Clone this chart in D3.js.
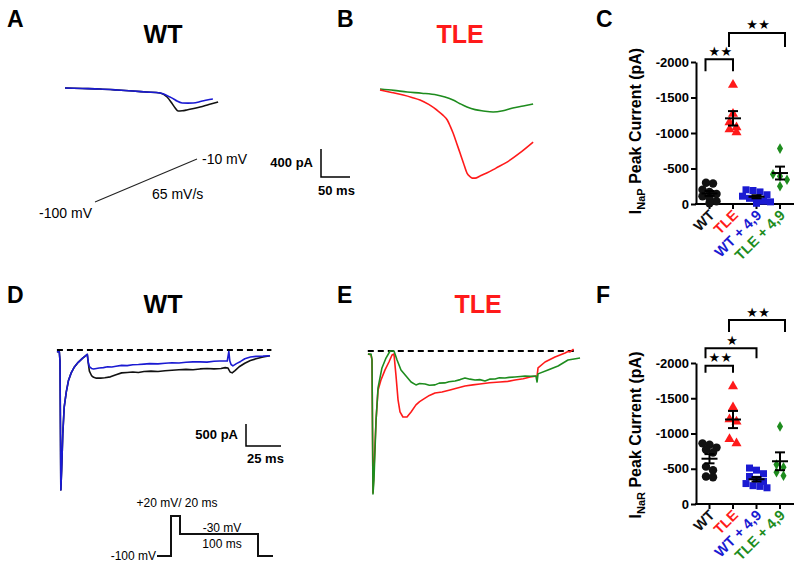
<!DOCTYPE html>
<html><head><meta charset="utf-8">
<script src="https://cdn.jsdelivr.net/npm/d3@7"></script>
<style>body{margin:0;background:#fff}svg{display:block}</style>
</head><body><svg id="c" width="800" height="569"></svg>
<script>
// ---------------- DATA ----------------
// Panel A: persistent current during ramp (WT black, WT + 4,9 blue)
const rampWT_ms   = [0,30,60,90,117,140,164,176,184,190,195,202,210,222,233,248,264];
const rampWT_pA   = [0,-7,-14,-28,-43,-57,-71,-129,-214,-286,-329,-325,-314,-293,-271,-236,-200];
const rampWT49_ms = [0,30,60,90,117,140,164,174,181,188,193,202,212,221,235,245,255];
const rampWT49_pA = [0,-7,-14,-28,-43,-57,-71,-100,-129,-160,-186,-214,-216,-214,-190,-171,-157];
// Panel B: TLE red, TLE + 4,9 green
const rampTLE_ms   = [0,20,40,55,69,84,98,108,116,121,126,132,138,144,150,155,159,164,172,184,200,219,240,264];
const rampTLE_pA   = [-14,-50,-86,-120,-157,-220,-300,-370,-443,-530,-629,-770,-915,-1060,-1201,-1250,-1273,-1273,-1245,-1201,-1130,-1044,-920,-758];
const rampTLE49_ms = [0,24,47,72,98,112,126,138,150,164,178,195,212,229,247,264];
const rampTLE49_pA = [0,-20,-43,-60,-86,-115,-157,-210,-257,-295,-314,-329,-310,-271,-243,-214];
// Ramp protocol (mV)
const rampProtocol_mV = [-100,-10];

// Panel D: resurgent current, WT (black) and WT + 4,9 (blue)
const resWT49_ms = [-2.2,-0.5,0,0.6,1.2,2,3,4.5,6,8,10,13,16,19.5,20.2,21,22.5,24,26,28,31,34,37,40,44,48,52,56,60,64,70,75,80,85,90,95,100,105,110,114,119.5,120.6,121.3,122.2,123.5,126,129,132,136,140,145,150];
const resWT49_pA = [-40,-40,-250,-3180,-2700,-1900,-1300,-950,-700,-520,-400,-280,-190,-100,-280,-380,-420,-430,-420,-410,-400,-380,-385,-370,-350,-355,-335,-330,-320,-310,-315,-300,-290,-295,-280,-270,-270,-275,-255,-250,-250,-30,-250,-330,-360,-310,-260,-200,-160,-145,-140,-130];
const resWT_ms = [-2.2,-0.5,0,0.6,1.2,2,3,4.5,6,8,10,13,16,19.5,20.2,21,22.5,24,26,29,32,36,40,44,48,52,56,60,65,70,75,80,85,90,95,100,105,110,115,118,120,121.5,123,125,128,132,136,140,145,150];
const resWT_pA = [-40,-40,-250,-3180,-2700,-1900,-1300,-950,-700,-520,-400,-280,-190,-100,-300,-480,-580,-620,-640,-640,-630,-610,-560,-520,-510,-500,-510,-490,-480,-490,-470,-460,-450,-440,-450,-430,-420,-430,-420,-400,-410,-500,-520,-470,-380,-300,-240,-200,-160,-130];
// Panel E: TLE (red) and TLE + 4,9 (green)
const resTLE_ms = [-2.9,-0.7,0,0.7,1.4,2.9,4.3,6.4,9.3,12.1,14.3,15.7,17.1,18.6,20,22.1,25,27.9,31.4,34,37.9,41,45,50,55.7,61,66.4,72,77.1,84,91.4,97,102.1,108,112.9,117.9,118.6,123.6,130.7,137.9,140,141.4,144];
const resTLE_pA = [-70,-90,-200,-3220,-2700,-1570,-890,-660,-430,-250,-90,-70,-545,-1110,-1385,-1500,-1500,-1385,-1225,-1150,-1070,-1010,-955,-930,-885,-840,-795,-770,-750,-720,-705,-690,-660,-630,-590,-570,-385,-250,-136,-45,-10,-20,45];
const resTLE49_ms = [-2.9,-0.7,0,0.7,1.4,2.9,4.3,7.1,10,12.9,15.7,17.9,20.7,24.3,27.9,31.4,34,37.9,41,45,48,52,55,59.3,63,66.4,70,73.6,77,80.7,84,87.9,91,95,98,102.1,106,109.3,113,117.1,117.9,118.6,125.7,132.9,140,144.3,148.6];
const resTLE49_pA = [-70,-70,-200,-3250,-2930,-1570,-840,-385,-160,0,0,-205,-430,-570,-705,-770,-740,-750,-780,-770,-730,-725,-700,-680,-650,-615,-640,-660,-650,-680,-640,-635,-610,-615,-600,-590,-580,-570,-575,-570,-705,-520,-430,-340,-205,-180,-160];
// Step protocol: time (ms) and voltage (mV)
const stepProtocol_ms = [-15,0,0,20,20,120,120,135];
const stepProtocol_mV = [-100,-100,20,20,-30,-30,-100,-100];

// Panels C & F: peak currents per group
const groups = ["WT","TLE","WT + 4,9","TLE + 4,9"];
const napWT    = [-300,-290,-200,-170,-140,-110,-80,-40,-10];
const napTLE   = [-1680,-1270,-1150,-1080,-1050,-1010];
const napWT49  = [-200,-190,-170,-130,-110,-80,-60,-30,-10,-40];
const napTLE49 = [-780,-420,-390,-340,-250];
const narWT    = [-860,-840,-800,-770,-730,-530,-480,-390,-380];
const narTLE   = [-1670,-1370,-1200,-1170,-920,-860];
const narWT49  = [-510,-480,-430,-390,-350,-320,-290,-250,-230,-260];
const narTLE49 = [-1100,-560,-520,-450,-400];
const yTickValues = [0,-500,-1000,-1500,-2000];
const yTickLabels = ["0","-500","-1000","-1500","-2000"];
// significance comparisons (group index a vs b, number of stars)
const napSigA = [0,1], napSigB = [1,3], napSigStars = [2,2], napSigLevel = [-2040,-2410];
const narSigA = [0,0,1], narSigB = [1,2,3], narSigStars = [2,1,2], narSigLevel = [-1960,-2210,-2610];

// ---------------- STYLE ----------------
const FONT = "'Liberation Sans', Arial, Helvetica, sans-serif";
const colBlack = "#111111", colBlue = "#1a1ad2", colRed = "#ff1a1a", colGreen = "#1e8c1e";
const groupColors = [colBlack, colRed, colBlue, colGreen];
const symbols = [d3.symbolCircle, d3.symbolTriangle, d3.symbolSquare, d3.symbolDiamond];
const symbolSizes = [56, 44, 49, 32];

const svg = d3.select("#c");
svg.append("rect").attr("width",800).attr("height",569).attr("fill","#fff");

function txt(x,y,s,opts={}) {
  const t = svg.append("text").attr("x",x).attr("y",y).text(s)
    .attr("font-family",FONT).attr("font-size",opts.size||14)
    .attr("font-weight",opts.bold?"bold":"normal")
    .attr("fill",opts.color||"#000")
    .attr("text-anchor",opts.anchor||"start");
  return t;
}

// panel letters & titles
[["A",7,27],["B",337,27],["C",596,27],["D",7,303],["E",337,303],["F",596,303]]
  .forEach(d=>txt(d[1],d[2],d[0],{size:23,bold:true}));
txt(163,43,"WT",{size:25,bold:true,anchor:"middle"});
txt(460,43,"TLE",{size:25,bold:true,anchor:"middle",color:colRed});
txt(163,313,"WT",{size:25,bold:true,anchor:"middle"});
txt(478,313,"TLE",{size:25,bold:true,anchor:"middle",color:colRed});

function drawTrace(xs, ys, tms, pA, color, curve) {
  const line = d3.line().x((d,i)=>xs(tms[i])).y((d,i)=>ys(pA[i])).curve(curve||d3.curveLinear);
  svg.append("path").datum(tms).attr("d",line).attr("fill","none")
    .attr("stroke",color).attr("stroke-width",1.6).attr("stroke-linejoin","round");
}

// ---- Panel A/B ----
const xA = d3.scaleLinear().domain([0,50]).range([65,94]);
const yA = d3.scaleLinear().domain([0,-400]).range([88,116]);
const xB = d3.scaleLinear().domain([0,50]).range([380,409]);
const yB = d3.scaleLinear().domain([0,-400]).range([89,117]);
drawTrace(xA,yA,rampWT_ms,rampWT_pA,colBlack,d3.curveMonotoneX);
drawTrace(xA,yA,rampWT49_ms,rampWT49_pA,colBlue,d3.curveMonotoneX);
drawTrace(xB,yB,rampTLE49_ms,rampTLE49_pA,colGreen,d3.curveMonotoneX);
drawTrace(xB,yB,rampTLE_ms,rampTLE_pA,colRed,d3.curveMonotoneX);

// scale bar A/B
{
  const x0 = 321, y0 = 177;
  const w = xA(50)-xA(0), h = yA(-400)-yA(0);
  svg.append("path").attr("d",`M${x0},${y0-h}V${y0}H${x0+w}`).attr("fill","none").attr("stroke","#000").attr("stroke-width",1.5);
  txt(313,167,"400 pA",{size:13,bold:true,anchor:"end"});
  txt(318,195,"50 ms",{size:13,bold:true});
}
// ramp protocol
{
  const xr = d3.scaleLinear().domain(rampProtocol_mV).range([95,197]);
  const yr = d3.scaleLinear().domain(rampProtocol_mV).range([202,159]);
  svg.append("line").attr("x1",xr(rampProtocol_mV[0])).attr("y1",yr(rampProtocol_mV[0]))
    .attr("x2",xr(rampProtocol_mV[1])).attr("y2",yr(rampProtocol_mV[1]))
    .attr("stroke","#222").attr("stroke-width",1.1);
  txt(202,164,"-10 mV",{size:14});
  txt(152,199,"65 mV/s",{size:14});
  txt(92,218,"-100 mV",{size:14,anchor:"end"});
}

// ---- Panel D/E ----
const xD = d3.scaleLinear().domain([0,25]).range([60,95]);
const yD = d3.scaleLinear().domain([0,-500]).range([350,372]);
const xE = d3.scaleLinear().domain([0,25]).range([372,407]);
const yE = d3.scaleLinear().domain([0,-500]).range([351,373]);
svg.append("line").attr("x1",xD(-2.2)).attr("x2",xD(151)).attr("y1",yD(0)).attr("y2",yD(0))
  .attr("stroke","#000").attr("stroke-width",2).attr("stroke-dasharray","6,4");
svg.append("line").attr("x1",xE(-3)).attr("x2",xE(145.7)).attr("y1",yE(0)).attr("y2",yE(0))
  .attr("stroke","#000").attr("stroke-width",2).attr("stroke-dasharray","6,4");
drawTrace(xD,yD,resWT_ms,resWT_pA,colBlack);
drawTrace(xD,yD,resWT49_ms,resWT49_pA,colBlue);
drawTrace(xE,yE,resTLE_ms,resTLE_pA,colRed);
drawTrace(xE,yE,resTLE49_ms,resTLE49_pA,colGreen);

// scale bar D
{
  const x0 = 246, y0 = 446;
  const w = xD(25)-xD(0), h = yD(-500)-yD(0);
  svg.append("path").attr("d",`M${x0},${y0-h}V${y0}H${x0+w}`).attr("fill","none").attr("stroke","#000").attr("stroke-width",1.5);
  txt(238,439,"500 pA",{size:13,bold:true,anchor:"end"});
  txt(247,463,"25 ms",{size:13,bold:true});
}
// step protocol
{
  const xs = d3.scaleLinear().domain([-15,0,20,120,135]).range([157,171,180,258,273]);
  const ys = d3.scaleLinear().domain([-100,-30,20]).range([556,534,516]);
  const line = d3.line().x((d,i)=>xs(stepProtocol_ms[i])).y((d,i)=>ys(stepProtocol_mV[i]));
  svg.append("path").datum(stepProtocol_ms).attr("d",line).attr("fill","none").attr("stroke","#111").attr("stroke-width",2);
  txt(177,507,"+20 mV/ 20 ms",{size:12,anchor:"middle"});
  txt(222,532,"-30 mV",{size:12,anchor:"middle"});
  txt(222,548,"100 ms",{size:12,anchor:"middle"});
  txt(156,560,"-100 mV",{size:12,anchor:"end"});
}

// ---- Panels C/F scatter ----
function scatterPanel(y0px, y2000px, datasets, sub, titleY, sigA, sigB, sigStars, sigLevel, legLens) {
  const y = d3.scaleLinear().domain([0,-2000]).range([y0px,y2000px]);
  const x = d3.scalePoint().domain(groups).range([709.5,780]);
  const axisX = 696;
  // y axis
  const ax = svg.append("g").attr("transform",`translate(${axisX},0)`)
    .call(d3.axisLeft(y).tickValues(yTickValues).tickFormat((d,i)=>yTickLabels[i]).tickSize(5).tickPadding(2).tickSizeOuter(0));
  ax.select(".domain").attr("stroke","#000").attr("stroke-width",2);
  ax.selectAll(".tick line").attr("stroke","#000").attr("stroke-width",2);
  ax.selectAll(".tick text").attr("font-family",FONT).attr("font-size",13).attr("font-weight","bold").attr("fill","#000");
  // x axis
  const bx = svg.append("g").attr("transform",`translate(0,${y0px})`);
  bx.append("line").attr("x1",axisX-1).attr("x2",794).attr("stroke","#000").attr("stroke-width",2);
  groups.forEach((g,i)=>{
    bx.append("line").attr("x1",x(g)).attr("x2",x(g)).attr("y1",0).attr("y2",5).attr("stroke","#000").attr("stroke-width",2);
    svg.append("text").attr("transform",`translate(${x(g)+6},${y0px+12}) rotate(-45)`)
      .attr("text-anchor","end").attr("font-family",FONT).attr("font-size",14.5).attr("font-weight","bold")
      .attr("fill",groupColors[i]).text(g);
  });
  // title
  const t = svg.append("text").attr("transform",`translate(641,${titleY}) rotate(-90)`)
    .attr("text-anchor","middle").attr("font-family",FONT).attr("font-size",16).attr("font-weight","bold");
  t.append("tspan").text("I");
  t.append("tspan").attr("font-size",11).attr("dy","0.32em").text(sub);
  t.append("tspan").attr("dy","-0.22em").text(" Peak Current (pA)");
  // points
  datasets.forEach((vals,gi)=>{
    const cx = x(groups[gi]);
    const pts = vals.map(v=>({v,py:y(v)})).sort((a,b)=>a.py-b.py);
    const rows=[];
    pts.forEach(p=>{ const r=rows[rows.length-1]; if(r && p.py-r[0].py<6) r.push(p); else rows.push([p]); });
    rows.forEach(r=>r.forEach((p,i)=>p.px=cx+(i-(r.length-1)/2)*7));
    const sym = d3.symbol().type(symbols[gi]).size(symbolSizes[gi]);
    svg.append("g").selectAll("path").data(pts).join("path")
      .attr("d",sym).attr("transform",d=>`translate(${d.px},${d.py})`)
      .attr("fill",groupColors[gi]);
    const m = d3.mean(vals), se = d3.deviation(vals)/Math.sqrt(vals.length);
    const g = svg.append("g").attr("stroke","#000").attr("stroke-width",2);
    g.append("line").attr("x1",cx-8).attr("x2",cx+8).attr("y1",y(m)).attr("y2",y(m));
    g.append("line").attr("x1",cx).attr("x2",cx).attr("y1",y(m-se)).attr("y2",y(m+se));
    g.append("line").attr("x1",cx-5).attr("x2",cx+5).attr("y1",y(m-se)).attr("y2",y(m-se));
    g.append("line").attr("x1",cx-5).attr("x2",cx+5).attr("y1",y(m+se)).attr("y2",y(m+se));
  });
  // significance brackets
  sigA.forEach((a,i)=>{
    const x1 = x(groups[a]) - 4, x2 = x(groups[sigB[i]]) + (sigB[i]===3?5:0);
    const yy = y(sigLevel[i]), leg = legLens[i];
    svg.append("path").attr("d",`M${x1},${yy+leg}V${yy}H${x2}V${yy+leg}`).attr("fill","none")
      .attr("stroke","#000").attr("stroke-width",2);
    const cx = (x1+x2)/2 + 1, n = sigStars[i];
    for (let k=0;k<n;k++) {
      svg.append("text").attr("x",cx+(k-(n-1)/2)*12).attr("y",yy-8).attr("dy","0.35em")
        .attr("text-anchor","middle").attr("font-family","'DejaVu Sans', sans-serif").attr("font-size",13)
        .text("★");
    }
  });
}
scatterPanel(204,62,[napWT,napTLE,napWT49,napTLE49],"NaP",131,napSigA,napSigB,napSigStars,napSigLevel,[12,14]);
scatterPanel(504,363,[narWT,narTLE,narWT49,narTLE49],"NaR",435,narSigA,narSigB,narSigStars,narSigLevel,[7,10,12]);
</script></body></html>
